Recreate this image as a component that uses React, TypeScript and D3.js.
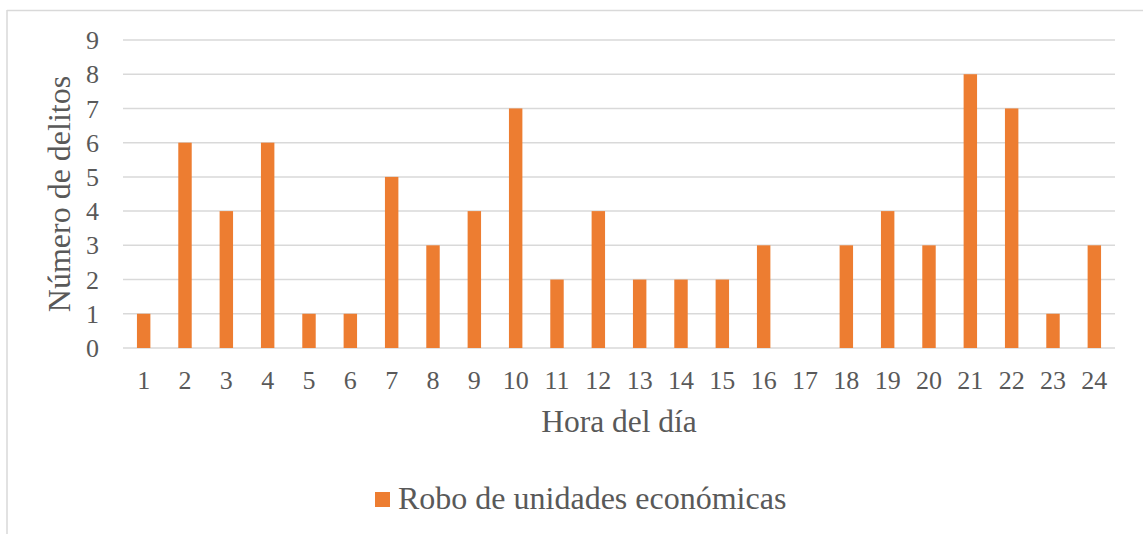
import React from 'react'
import * as d3 from 'd3'

const hours = ['1', '2', '3', '4', '5', '6', '7', '8', '9', '10', '11', '12', '13', '14', '15', '16', '17', '18', '19', '20', '21', '22', '23', '24']
const robos = [1, 6, 4, 6, 1, 1, 5, 3, 4, 7, 2, 4, 2, 2, 2, 3, 0, 3, 4, 3, 8, 7, 1, 3]
const yTicks = [0, 1, 2, 3, 4, 5, 6, 7, 8, 9]
const seriesName = 'Robo de unidades económicas'

const W = 1143
const H = 534
const margin = { top: 40, right: 28, bottom: 186, left: 123 }
const textColor = '#595959'
const barColor = '#ED7D31'
const font = '"Liberation Serif", "Times New Roman", serif'

const App = () => {
  const x = d3.scaleBand()
    .domain(hours)
    .range([margin.left, W - margin.right])
    .paddingInner(0.675)
    .paddingOuter(0.3375)

  const y = d3.scaleLinear()
    .domain([0, 9])
    .range([H - margin.bottom, margin.top])

  const plotMid = (margin.left + W - margin.right) / 2

  return (
    <svg width={W} height={H} style={{ position: 'absolute', left: 0, top: 0, background: '#fff' }}
      fontFamily={font}>
      {/* chart frame */}
      <line x1={7} x2={W} y1={10.5} y2={10.5} stroke='#d9d9d9' strokeWidth={1.5} />
      <line x1={7} x2={7} y1={10} y2={H} stroke='#d9d9d9' strokeWidth={1.5} />

      {yTicks.map(t => (
        <g key={t}>
          <line x1={margin.left} x2={W - margin.right} y1={y(t)} y2={y(t)} stroke='#d9d9d9' strokeWidth={1.5} />
          <text x={99} y={y(t)} dy='0.35em' textAnchor='end' fontSize={26} fill={textColor}>{t}</text>
        </g>
      ))}

      {robos.map((v, i) => (
        <rect key={hours[i]} x={x(hours[i])} y={y(v)} width={x.bandwidth()} height={y(0) - y(v)} fill={barColor} />
      ))}

      {hours.map(h => (
        <text key={h} x={(x(h) as number) + x.bandwidth() / 2} y={389} textAnchor='middle' fontSize={26} fill={textColor}>{h}</text>
      ))}

      <text x={plotMid} y={432} textAnchor='middle' fontSize={31.5} fill={textColor}>Hora del día</text>
      <text transform={`translate(70,${(y(0) + y(9)) / 2}) rotate(-90)`} textAnchor='middle' fontSize={32} fill={textColor}>
        Número de delitos
      </text>

      <rect x={375} y={492} width={15} height={15} fill={barColor} />
      <text x={398} y={509} fontSize={32} fill={textColor}>{seriesName}</text>
    </svg>
  )
}

export default App
